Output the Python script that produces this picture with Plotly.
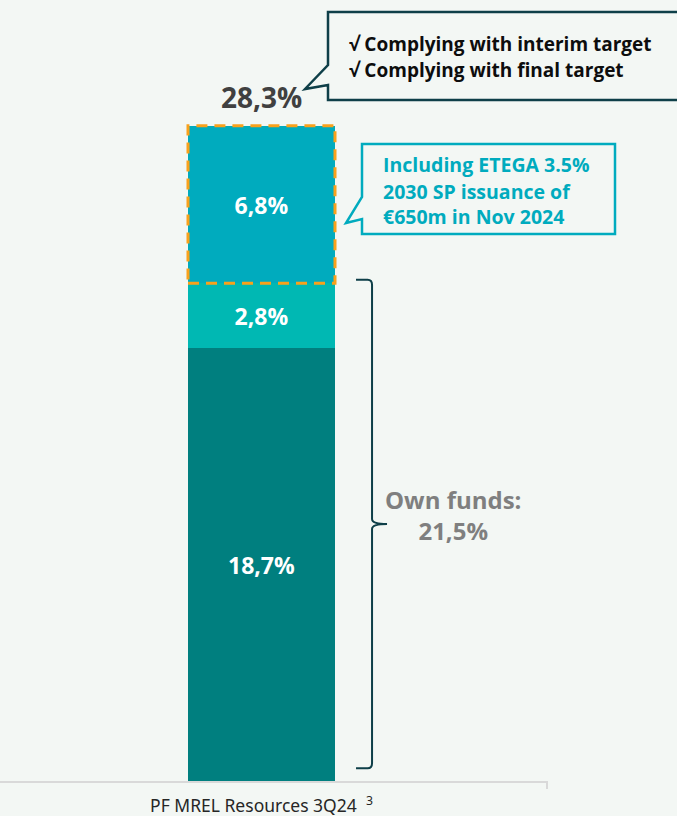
import plotly.graph_objects as go

W, H = 677, 816

# ---------------- data ----------------
categories = ["PF MREL Resources 3Q24"]
footnote = "3"
segment_names = ["Own funds (CET1)", "Own funds (other)", "SP issuance"]
segment_values = [18.7, 2.8, 6.8]
segment_colors = ["#007F7F", "#00B8B3", "#00ABBE"]
own_funds_label = "Own funds:"
callout_top_lines = ["√ Complying with interim target", "√ Complying with final target"]
callout_sp_lines = ["Including ETEGA 3.5%", "2030 SP issuance of", "€650m in Nov 2024"]

own_funds = round(segment_values[0] + segment_values[1], 1)
total = round(sum(segment_values), 1)


def fmt(v):
    return f"{v:.1f}".replace(".", ",") + "%"


# ---------------- layout helpers (pixels -> paper) ----------------
def px(x):
    return x / W


def py(y):
    return 1 - y / H


BG = "#F3F7F4"
FONT = "Open Sans"
axis_bottom_px = 781
plot_right_px = 547
bar_center_px = 261.5
bar_width_px = 147
units_per_pct = 23.15  # px per percentage point

x_lo = -bar_center_px / bar_width_px
x_hi = (plot_right_px - bar_center_px) / bar_width_px
y_hi = axis_bottom_px / units_per_pct

fig = go.Figure()
x0 = 0
for name, val, col in zip(segment_names, segment_values, segment_colors):
    fig.add_trace(go.Bar(
        x=[x0], y=[val], name=name, width=1,
        marker=dict(color=col, line=dict(width=0)),
        text=[fmt(val)], textposition="inside", insidetextanchor="middle",
        textangle=0, constraintext="none",
        textfont=dict(color="white", size=23, family=FONT, weight="bold"),
        hoverinfo="skip", showlegend=False,
    ))

shapes = []
# dashed outline around top segment
shapes.append(dict(type="rect", xref="x", yref="y", x0=x0 - 0.5, x1=x0 + 0.5,
                   y0=own_funds, y1=total,
                   line=dict(color="#F9A11B", width=3, dash="11px,7px"),
                   fillcolor="rgba(0,0,0,0)", layer="above"))

# curly brace for own funds
bx_end = 0.643
bx_v = 0.752
bx_tip = 0.854
ry = 5 / units_per_pct
rx = 0.03
y_top = own_funds + 0.15
y_bot = 0.55
y_mid = (y_top + y_bot) / 2 + 0.0
path = (f"M {bx_end},{y_top} L {bx_v - rx},{y_top} Q {bx_v},{y_top} {bx_v},{y_top - ry} "
        f"L {bx_v},{y_mid + ry} Q {bx_v},{y_mid} {bx_tip},{y_mid} "
        f"Q {bx_v},{y_mid} {bx_v},{y_mid - ry} "
        f"L {bx_v},{y_bot + ry} Q {bx_v},{y_bot} {bx_v - rx},{y_bot} L {bx_end},{y_bot}")
shapes.append(dict(type="path", xref="x", yref="y", path=path,
                   line=dict(color="#0E3F48", width=2), layer="above"))

# callout 1 (top, dark)
c1 = [(328, 12), (720, 12), (720, 100), (328, 100), (328, 85), (305, 89), (328, 65)]
p1 = "M " + " L ".join(f"{px(a)},{py(b)}" for a, b in c1) + " Z"
shapes.append(dict(type="path", xref="paper", yref="paper", path=p1,
                   line=dict(color="#0E3F48", width=2.5), fillcolor=BG, layer="above"))

# callout 2 (cyan)
c2 = [(362, 144), (615, 144), (615, 234), (362, 234), (362, 219), (346, 223), (362, 197)]
p2 = "M " + " L ".join(f"{px(a)},{py(b)}" for a, b in c2) + " Z"
shapes.append(dict(type="path", xref="paper", yref="paper", path=p2,
                   line=dict(color="#00ABBE", width=2.5), fillcolor=BG, layer="above"))

# small tick at the right end of the axis
shapes.append(dict(type="line", xref="paper", yref="paper",
                   x0=px(plot_right_px), x1=px(plot_right_px),
                   y0=py(axis_bottom_px), y1=py(axis_bottom_px + 8),
                   line=dict(color="#D9D9D9", width=2)))

annotations = []
# total label
annotations.append(dict(x=x0, y=total, xref="x", yref="y", text=fmt(total),
                        showarrow=False, yanchor="bottom", yshift=8,
                        font=dict(size=28, color="#404040", family=FONT, weight="bold")))
# own funds label
annotations.append(dict(x=1.303, y=own_funds / 2, xref="x", yref="y",
                        text=f"{own_funds_label}<br>{fmt(own_funds)}",
                        showarrow=False, xanchor="center", yanchor="middle", yshift=17,
                        font=dict(size=24, color="#7F7F7F", family=FONT, weight="bold")))
for i, line in enumerate(callout_top_lines):
    annotations.append(dict(x=px(347), y=py(44 + 26 * i), xref="paper", yref="paper",
                            text=line, showarrow=False, xanchor="left", yanchor="middle",
                            font=dict(size=19, color="#0D0D0D", family=FONT, weight="bold")))
for i, line in enumerate(callout_sp_lines):
    annotations.append(dict(x=px(381), y=py(165 + 26 * i), xref="paper", yref="paper",
                            text=line, showarrow=False, xanchor="left", yanchor="middle",
                            font=dict(size=19.5, color="#00ABBE", family=FONT, weight="bold")))

fig.update_layout(
    width=W, height=H,
    margin=dict(l=0, r=0, t=0, b=0),
    paper_bgcolor=BG, plot_bgcolor=BG,
    barmode="stack",
    shapes=shapes, annotations=annotations,
    xaxis=dict(domain=[0, px(plot_right_px)], range=[x_lo, x_hi],
               tickvals=[x0], ticktext=[f"{categories[0]}  <sup>{footnote}</sup>"],
               tickfont=dict(size=17.5, color="#262626", family="Noto Sans"),
               ticklabelstandoff=8,
               showline=True, linecolor="#D9D9D9", linewidth=2,
               showgrid=False, zeroline=False, ticks="", automargin=False, fixedrange=True),
    yaxis=dict(domain=[1 - axis_bottom_px / H, 1], range=[0, y_hi],
               visible=False, showgrid=False, zeroline=False, automargin=False, fixedrange=True),
    showlegend=False,
)

fig.write_html("out.html")
